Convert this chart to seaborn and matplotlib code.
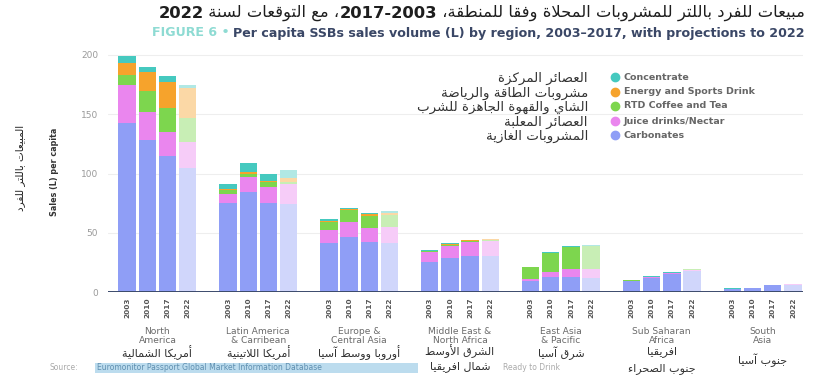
import re
import numpy as np
import pandas as pd
import matplotlib
matplotlib.use("Agg")
import matplotlib.pyplot as plt
from matplotlib.lines import Line2D
from matplotlib.patches import Rectangle
import seaborn as sns

# ---------------- data ----------------
regions_en = ["North\nAmerica", "Latin America\n& Carribean", "Europe &\nCentral Asia",
              "Middle East &\nNorth Africa", "East Asia\n& Pacific", "Sub Saharan\nAfrica",
              "South\nAsia"]
regions_ar = [["أمريكا الشمالية"], ["أمريكا اللاتينية"], ["أوروبا ووسط آسيا"],
              ["الشرق الأوسط", "شمال افريقيا"], ["شرق آسيا"], ["افريقيا", "جنوب الصحراء"],
              ["جنوب آسيا"]]
years = ["2003", "2010", "2017", "2022"]
categories = ["Carbonates", "Juice drinks/Nectar", "RTD Coffee and Tea",
              "Energy and Sports Drink", "Concentrate"]
categories_ar = ["المشروبات الغازية", "العصائر المعلبة", "الشاي والقهوة الجاهزة للشرب",
                 "مشروبات الطاقة والرياضة", "العصائر المركزة"]

# per region: 2003, 2010, 2017, 2022
carbonates = [143, 128, 115, 105, 75, 84, 75, 74, 41, 46, 42, 41, 25, 29, 30, 30,
              9, 13, 13, 12, 9, 12, 15, 18, 2.5, 3, 5.5, 6]
juice = [32, 24, 20, 22, 8, 13, 14, 17, 11, 13, 12, 14, 9, 10, 12, 13,
         2, 4, 6, 7, 0.5, 0.5, 0.7, 0.8, 0.3, 0.3, 0.5, 0.5]
rtd = [8, 18, 20, 20, 3, 3, 4, 2, 7, 10, 10, 10, 0.5, 1, 1, 1,
       10, 16, 19, 20, 0.3, 0.3, 0.3, 0.3, 0.1, 0.1, 0.1, 0.1]
energy = [10, 16, 22, 25, 0.5, 1, 1, 3, 1, 1, 2, 2, 0.3, 0.5, 0.5, 0.5,
          0.2, 0.2, 0.2, 0.2, 0.2, 0.2, 0.2, 0.2, 0, 0, 0, 0]
concentrate = [6, 4, 5, 3, 5, 8, 6, 7, 2, 1, 1, 1, 0.5, 1, 0.5, 0.5,
               0.3, 0.3, 0.3, 0.3, 0.3, 0.3, 0.3, 0.3, 0.1, 0.1, 0.1, 0.1]

series = [carbonates, juice, rtd, energy, concentrate]
colors = ["#8f9ef6", "#ea86ee", "#7dd64e", "#f6a32c", "#45c9bf"]

title_ar = "مبيعات للفرد باللتر للمشروبات المحلاة وفقا للمنطقة، 2003-2017، مع التوقعات لسنة 2022"
subtitle = "Per capita SSBs sales volume (L) by region, 2003–2017, with projections to 2022"

# ---------------- minimal Arabic shaping ----------------
_F4 = {'ئ': 0xFE89, 'ب': 0xFE8F, 'ت': 0xFE95, 'ث': 0xFE99, 'ج': 0xFE9D, 'ح': 0xFEA1,
       'خ': 0xFEA5, 'س': 0xFEB1, 'ش': 0xFEB5, 'ص': 0xFEB9, 'ض': 0xFEBD, 'ط': 0xFEC1,
       'ظ': 0xFEC5, 'ع': 0xFEC9, 'غ': 0xFECD, 'ف': 0xFED1, 'ق': 0xFED5, 'ك': 0xFED9,
       'ل': 0xFEDD, 'م': 0xFEE1, 'ن': 0xFEE5, 'ه': 0xFEE9, 'ي': 0xFEF1}
_F2 = {'آ': 0xFE81, 'أ': 0xFE83, 'ؤ': 0xFE85, 'إ': 0xFE87, 'ا': 0xFE8D, 'ة': 0xFE93,
       'د': 0xFEA9, 'ذ': 0xFEAB, 'ر': 0xFEAD, 'ز': 0xFEAF, 'و': 0xFEED, 'ى': 0xFEEF}
_LA = {'آ': 0xFEF5, 'أ': 0xFEF7, 'إ': 0xFEF9, 'ا': 0xFEFB}


def _forms(t):
    if isinstance(t, tuple):
        b = _LA[t[1]]
        return (b, b + 1)
    if t in _F4:
        b = _F4[t]
        return (b, b + 1, b + 2, b + 3)
    if t in _F2:
        b = _F2[t]
        return (b, b + 1)
    if t == 'ء':
        return (0xFE80,)
    return None


def shape(s):
    toks, i = [], 0
    while i < len(s):
        if s[i] == 'ل' and i + 1 < len(s) and s[i + 1] in _LA:
            toks.append(('LA', s[i + 1]))
            i += 2
        else:
            toks.append(s[i])
            i += 1
    out = []
    for k, t in enumerate(toks):
        f = _forms(t)
        if f is None:
            out.append(t)
            continue
        pf = _forms(toks[k - 1]) if k > 0 else None
        nf = _forms(toks[k + 1]) if k + 1 < len(toks) else None
        jp = pf is not None and len(pf) == 4 and len(f) >= 2
        jn = len(f) == 4 and nf is not None and len(nf) >= 2
        if jp and jn:
            g = f[3]
        elif jp:
            g = f[1]
        elif jn:
            g = f[2]
        else:
            g = f[0]
        out.append(chr(g))
    return ''.join(out)


def ar(s):
    """Shape Arabic and put it in right-to-left visual order (digit runs kept)."""
    sh = shape(s)
    runs = re.findall(r'[0-9A-Za-z]+|[^0-9A-Za-z]+', sh)
    return ''.join(r if re.match(r'[0-9A-Za-z]', r) else r[::-1] for r in reversed(runs))


# ---------------- figure ----------------
sns.set_theme(style="white")
plt.rcParams['font.family'] = ['DejaVu Sans']
W, H = 820, 382
fig = plt.figure(figsize=(W / 100, H / 100), dpi=100)


def fx(px):
    return px / W


def fy(py):
    return 1 - py / H


ax = fig.add_axes([fx(108), fy(292), fx(803) - fx(108), (205 * 1.185) / H])

rows = []
for i in range(len(regions_en)):
    for j, yr in enumerate(years):
        rows.append(dict(pos=5 * i + j, kind="proj" if yr == "2022" else "hist",
                         region=i, year=yr))
base = pd.DataFrame(rows)


def lighten(c, f=0.42):
    r, g, b = matplotlib.colors.to_rgb(c)
    return (1 - f * (1 - r), 1 - f * (1 - g), 1 - f * (1 - b))


cum = np.cumsum(np.array(series, dtype=float), axis=0)
for k in range(len(series) - 1, -1, -1):
    d = base.copy()
    d["value"] = cum[k]
    sns.barplot(data=d, x="pos", y="value", hue="kind", native_scale=True,
                palette={"hist": colors[k], "proj": lighten(colors[k])},
                hue_order=["hist", "proj"], dodge=False, width=0.86,
                errorbar=None, legend=False, saturation=1, linewidth=0, ax=ax)

ax.set_xlim(-0.95, 33.5)
ax.set_ylim(0, 205)
ax.set_yticks([0, 50, 100, 150, 200])
ax.set_yticklabels(["0", "50", "100", "150", "200"])
ax.tick_params(axis='y', length=0, pad=7, labelsize=6.5, labelcolor="#9a9a9a")
ax.set_xticks(base["pos"])
ax.set_xticklabels(base["year"], rotation=90, fontsize=5.3, color="#555555",
                   fontweight="bold")
ax.tick_params(axis='x', length=0, pad=4)
ax.set_xlabel("")
ax.set_ylabel("")
for s in ax.spines.values():
    s.set_visible(False)
ax.yaxis.grid(True, color="#eeeeee", linewidth=0.8)
ax.set_axisbelow(True)
ax.axhline(0, color="#3b4a6b", linewidth=1.4, zorder=5)

btr = matplotlib.transforms.blended_transform_factory(ax.transData, fig.transFigure)

# region labels
for i, name in enumerate(regions_en):
    xc = 5 * i + 1.5
    ax.text(xc, fy(327), name, transform=btr, ha="center", va="top",
            fontsize=6.6, color="#6a6a6a", linespacing=1.05)

ar_pos = {0: [353], 1: [353], 2: [353], 3: [351, 367], 4: [353], 5: [352, 369], 6: [360]}
for i, lines in enumerate(regions_ar):
    xc = 5 * i + 1.5
    for ln, yy in zip(lines, ar_pos[i]):
        ax.text(xc, fy(yy), ar(ln), transform=btr, ha="center", va="center",
                fontsize=8, color="#333333")

# title (Arabic) drawn piecewise, right to left, numbers bold
renderer = fig.canvas.get_renderer()
vis = ar(title_ar)
pieces = [p for p in re.split(r'(\d[\d\-]*\d)', vis) if p]
xr = fx(805)
for txt in reversed(pieces):
    wt = "bold" if re.match(r'\d', txt) else "normal"
    t = fig.text(xr, fy(13), txt, ha="right", va="center", fontsize=11.8,
                 fontweight=wt, color="#1e1e1e")
    bb = t.get_window_extent(renderer)
    xr -= bb.width / W

# subtitle
t1 = fig.text(fx(805), fy(33), subtitle, ha="right", va="center", fontsize=9.1,
              fontweight="bold", color="#3a4766")
bb = t1.get_window_extent(renderer)
fig.text(bb.x0 / W - fx(4), fy(33), "FIGURE 6 •", ha="right", va="center",
         fontsize=9.1, fontweight="bold", color="#8edbd3")

# y labels
fig.text(fx(55), fy(172), "Sales (L) per capita", rotation=90, ha="center", va="center",
         fontsize=5.8, fontweight="bold", color="#333333")
fig.text(fx(20), fy(168), ar("المبيعات باللتر للفرد"), rotation=90, ha="center",
         va="center", fontsize=7.5, color="#222222")

# legend
leg_y = [77, 92, 106, 121, 135]
for k, yy in zip(range(len(categories) - 1, -1, -1), leg_y):
    fig.add_artist(Line2D([fx(615)], [fy(yy)], marker="o", markersize=6,
                          color=colors[k], transform=fig.transFigure, linestyle="none"))
    fig.text(fx(624), fy(yy), categories[k], ha="left", va="center", fontsize=6.8,
             fontweight="bold", color="#666666")
    fig.text(fx(588), fy(yy + 1), ar(categories_ar[k]), ha="right", va="center",
             fontsize=9.6, color="#333333")

# source line
fig.text(fx(50), fy(368), "Source:", ha="left", va="center", fontsize=5.5, color="#aaaaaa")
fig.add_artist(Rectangle((fx(95), fy(373)), fx(418) - fx(95), (373 - 363) / H,
                         transform=fig.transFigure, facecolor="#bcdcee", edgecolor="none",
                         zorder=0))
fig.text(fx(97), fy(368), "Euromonitor Passport Global Market Information Database",
         ha="left", va="center", fontsize=5.5, color="#5f8fb0")
fig.text(fx(560), fy(368), "Ready to Drink", ha="right", va="center", fontsize=5.5,
         color="#aaaaaa")

fig.savefig("out.png", dpi=100)
